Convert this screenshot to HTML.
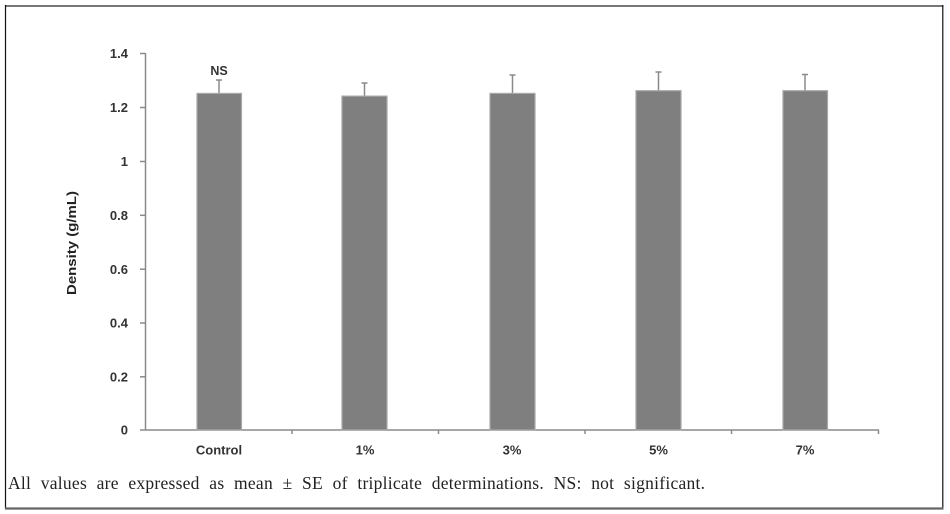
<!DOCTYPE html>
<html><head><meta charset="utf-8"><style>
html,body{margin:0;padding:0;background:#fff;}
svg{display:block;}
</style></head><body>
<svg width="950" height="514" viewBox="0 0 950 514" xmlns="http://www.w3.org/2000/svg">
<rect x="0" y="0" width="950" height="514" fill="#fff"/>
<!-- frame -->
<line x1="5" y1="6" x2="943.5" y2="6" stroke="#777" stroke-width="2"/>
<line x1="5.5" y1="5" x2="5.5" y2="509" stroke="#111" stroke-width="1.2"/>
<line x1="942.8" y1="5" x2="942.8" y2="509" stroke="#111" stroke-width="1.2"/>
<line x1="5" y1="508.5" x2="943.5" y2="508.5" stroke="#666" stroke-width="2.2"/>

<!-- axes -->
<g stroke="#8a8a8a" stroke-width="1.5" fill="none">
<line x1="145.5" y1="53" x2="145.5" y2="430"/>
<line x1="145" y1="430" x2="879" y2="430"/>
<line x1="140" y1="53.5" x2="145" y2="53.5"/>
<line x1="140" y1="107.5" x2="145" y2="107.5"/>
<line x1="140" y1="161.5" x2="145" y2="161.5"/>
<line x1="140" y1="215.3" x2="145" y2="215.3"/>
<line x1="140" y1="269.2" x2="145" y2="269.2"/>
<line x1="140" y1="323" x2="145" y2="323"/>
<line x1="140" y1="376.8" x2="145" y2="376.8"/>
<line x1="140" y1="430" x2="145" y2="430"/>
<line x1="292" y1="430" x2="292" y2="434"/>
<line x1="438.5" y1="430" x2="438.5" y2="434"/>
<line x1="585" y1="430" x2="585" y2="434"/>
<line x1="731.5" y1="430" x2="731.5" y2="434"/>
<line x1="878.5" y1="430" x2="878.5" y2="434"/>
</g>

<!-- y tick labels -->
<g font-family="Liberation Sans, sans-serif" font-weight="bold" font-size="13" fill="#333" text-anchor="end">
<text x="128" y="58">1.4</text>
<text x="128" y="112">1.2</text>
<text x="128" y="166">1</text>
<text x="128" y="220">0.8</text>
<text x="128" y="274">0.6</text>
<text x="128" y="327.5">0.4</text>
<text x="128" y="381.5">0.2</text>
<text x="128" y="434.5">0</text>
</g>
<text transform="translate(76,243) rotate(-90)" font-family="Liberation Sans, sans-serif" font-weight="bold" font-size="12.5" fill="#222" text-anchor="middle" textLength="104" lengthAdjust="spacingAndGlyphs">Density (g/mL)</text>

<!-- error bars -->
<g stroke="#8a8a8a" stroke-width="1.5">
<line x1="219" y1="80" x2="219" y2="94"/><line x1="216" y1="80" x2="222" y2="80"/>
<line x1="364.5" y1="83" x2="364.5" y2="97"/><line x1="361.5" y1="83" x2="367.5" y2="83"/>
<line x1="512.5" y1="75" x2="512.5" y2="94"/><line x1="509.5" y1="75" x2="515.5" y2="75"/>
<line x1="658.5" y1="72" x2="658.5" y2="91"/><line x1="655.5" y1="72" x2="661.5" y2="72"/>
<line x1="805" y1="74.5" x2="805" y2="91"/><line x1="802" y1="74.5" x2="808" y2="74.5"/>
</g>

<!-- bars -->
<g fill="#7f7f7f" stroke="#a8a8a8" stroke-width="1.2">
<rect x="197" y="93.4" width="44.5" height="336.6"/>
<rect x="342" y="96.1" width="45" height="333.9"/>
<rect x="490" y="93.4" width="45" height="336.6"/>
<rect x="636" y="90.7" width="45" height="339.3"/>
<rect x="783" y="90.7" width="44.5" height="339.3"/>
</g>

<!-- NS -->
<text x="219" y="75" font-family="Liberation Sans, sans-serif" font-weight="bold" font-size="12.5" fill="#333" text-anchor="middle">NS</text>

<!-- x labels -->
<g font-family="Liberation Sans, sans-serif" font-weight="bold" font-size="13" fill="#333" text-anchor="middle">
<text x="219" y="454.5">Control</text>
<text x="365" y="454.5">1%</text>
<text x="512" y="454.5">3%</text>
<text x="658.5" y="454.5">5%</text>
<text x="805" y="454.5">7%</text>
</g>

<!-- caption -->
<text x="8" y="489" font-family="Liberation Serif, serif" font-size="17.5" fill="#222" word-spacing="5" textLength="697" lengthAdjust="spacing">All values are expressed as mean ± SE of triplicate determinations. NS: not significant.</text>
</svg>
</body></html>
